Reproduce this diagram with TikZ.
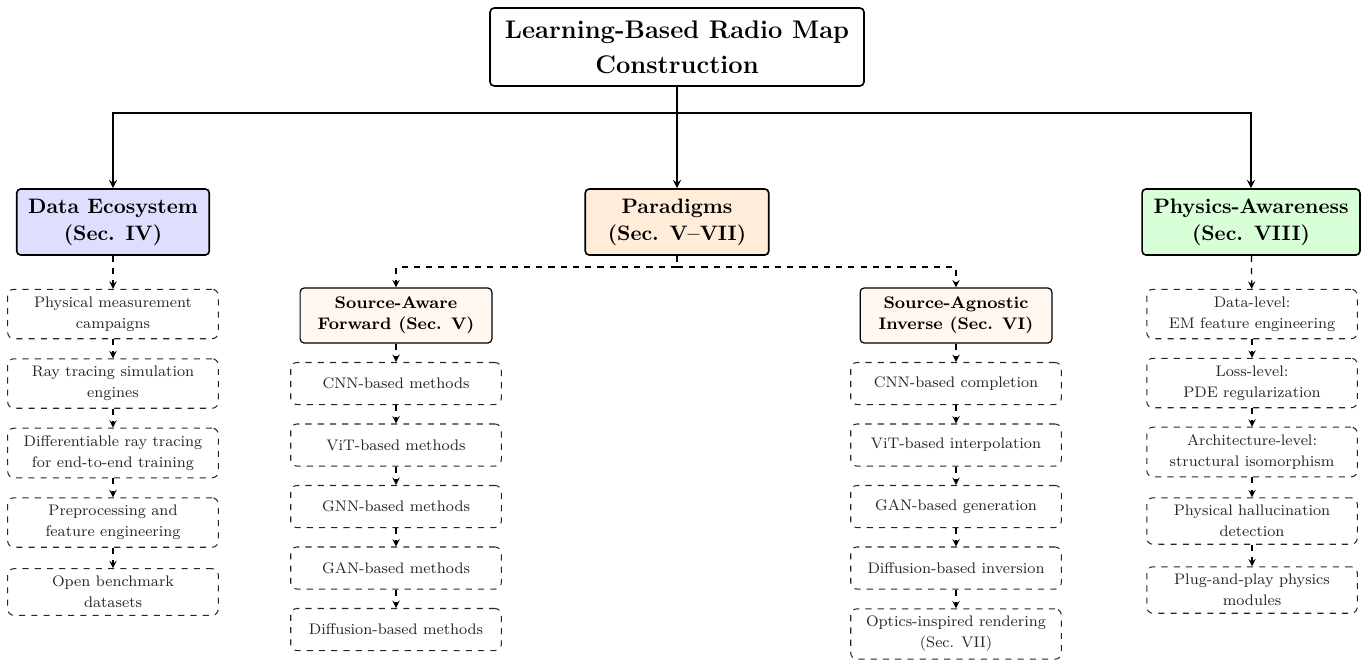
\documentclass[tikz,border=0pt]{standalone}
\usepackage{amsmath,amssymb}
\usepackage{tikz}
\begin{document}
\begin{tikzpicture}[x=0.4902pt,y=0.4902pt,>=stealth]
		\tikzstyle{root}=[draw=black,thick,rounded corners=2pt,align=center,font=\fontsize{12.5}{17}\selectfont\bfseries,minimum width=183.3pt,minimum height=38.2pt]
		\tikzstyle{pillar}=[draw=black,thick,rounded corners=2pt,align=center,font=\fontsize{10.25}{13.2}\selectfont\bfseries,inner xsep=5.6pt,minimum width=90pt,minimum height=32.4pt]
		\tikzstyle{branch}=[draw=black,semithick,rounded corners=2pt,fill=orange!6,align=center,font=\fontsize{8.2}{10.3}\selectfont\bfseries,minimum width=94pt,minimum height=27pt]
		\tikzstyle{leaf}=[draw=black!85,dashed,line width=0.5pt,rounded corners=3pt,align=center,font=\fontsize{7.5}{10.3}\selectfont,text=black!85,minimum width=103.2pt,minimum height=20.6pt,inner ysep=3.6pt]
		\tikzstyle{link}=[thick]
		\tikzstyle{sublink}=[semithick,dashed]
		\useasboundingbox (0,0) rectangle (1361,-660);
		\node [root] (root) at (677,-47) {Learning-Based Radio Map\\Construction};
		\node [pillar,fill=blue!13] (data) at (113,-222) {Data Ecosystem\\(Sec. IV)};
		\node [pillar,fill=orange!15] (para) at (677,-222) {Paradigms\\(Sec. V--VII)};
		\node [pillar,fill=green!15] (phys) at (1251,-222) {Physics-Awareness\\(Sec. VIII)};
		\coordinate (hub) at (677,-113);
		\draw [link] (root.south) -- (hub);
		\draw [link,->] (hub) -| (data.north);
		\draw [link,->] (hub) -- (para.north);
		\draw [link,->] (hub) -| (phys.north);
		\node [branch] (fwd) at (396,-315.5) {Source-Aware\\Forward (Sec. V)};
		\node [branch] (inv) at (956,-315.5) {Source-Agnostic\\Inverse (Sec. VI)};
		\coordinate (phub) at (677,-267);
		\draw [sublink] (para.south) -- (phub);
		\draw [sublink,->] (phub) -| (fwd.north);
		\draw [sublink,->] (phub) -| (inv.north);
		\node [leaf] (d1) at (113,-314) {Physical measurement\\campaigns};
		\node [leaf] (d2) at (113,-383.5) {Ray tracing simulation\\engines};
		\node [leaf] (d3) at (113,-453) {Differentiable ray tracing\\for end-to-end training};
		\node [leaf] (d4) at (113,-522.5) {Preprocessing and\\feature engineering};
		\node [leaf] (d5) at (113,-592) {Open benchmark\\datasets};
		\draw [sublink,->] (data) -- (d1);
		\draw [sublink,->] (d1) -- (d2);
		\draw [sublink,->] (d2) -- (d3);
		\draw [sublink,->] (d3) -- (d4);
		\draw [sublink,->] (d4) -- (d5);
		\node [leaf] (f1) at (396,-383.5) {CNN-based methods};
		\node [leaf] (f2) at (396,-445) {ViT-based methods};
		\node [leaf] (f3) at (396,-506.5) {GNN-based methods};
		\node [leaf] (f4) at (396,-568) {GAN-based methods};
		\node [leaf] (f5) at (396,-629.5) {Diffusion-based methods};
		\draw [sublink,->] (fwd) -- (f1);
		\draw [sublink,->] (f1) -- (f2);
		\draw [sublink,->] (f2) -- (f3);
		\draw [sublink,->] (f3) -- (f4);
		\draw [sublink,->] (f4) -- (f5);
		\node [leaf] (i1) at (956,-383.5) {CNN-based completion};
		\node [leaf] (i2) at (956,-445) {ViT-based interpolation};
		\node [leaf] (i3) at (956,-506.5) {GAN-based generation};
		\node [leaf] (i4) at (956,-568) {Diffusion-based inversion};
		\node [leaf] (i5) at (956,-634) {Optics-inspired rendering\\(Sec. VII)};
		\draw [sublink,->] (inv) -- (i1);
		\draw [sublink,->] (i1) -- (i2);
		\draw [sublink,->] (i2) -- (i3);
		\draw [sublink,->] (i3) -- (i4);
		\draw [sublink,->] (i4) -- (i5);
		\node [leaf] (p1) at (1252,-314) {Data-level:\\EM feature engineering};
		\node [leaf] (p2) at (1252,-383) {Loss-level:\\PDE regularization};
		\node [leaf] (p3) at (1252,-452) {Architecture-level:\\structural isomorphism};
		\node [leaf] (p4) at (1252,-521) {Physical hallucination\\detection};
		\node [leaf] (p5) at (1252,-590) {Plug-and-play physics\\modules};
		\draw [sublink,->] (phys) -- (p1);
		\draw [sublink,->] (p1) -- (p2);
		\draw [sublink,->] (p2) -- (p3);
		\draw [sublink,->] (p3) -- (p4);
		\draw [sublink,->] (p4) -- (p5);
\end{tikzpicture}
\end{document}
